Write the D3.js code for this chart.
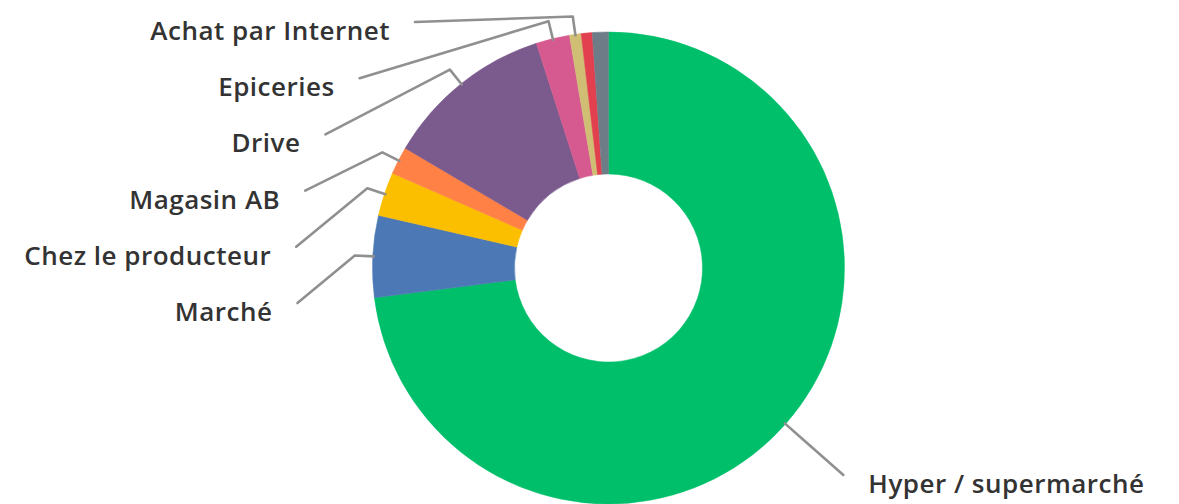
<!DOCTYPE html>
<html>
<head>
<meta charset="utf-8">
<script src="https://cdn.jsdelivr.net/npm/d3@7"></script>
<style>
  html, body { margin: 0; padding: 0; background: #ffffff; }
  svg { display: block; }
</style>
</head>
<body>
<svg id="chart" width="1179" height="504"></svg>
<script>
// ---- data ----
const categories = ["Hyper / supermarché", "Marché", "Chez le producteur", "Magasin AB", "Drive", "Epiceries", "Achat par Internet", "Autre (rouge)", "Autre (gris)"];
const values = [73.1, 5.6, 3.0, 1.9, 11.6, 2.3, 0.8, 0.75, 1.1];
const colors = ["#00BF6B", "#4C79B5", "#FBBF00", "#FF8146", "#7B5A8D", "#D6598F", "#CFBE74", "#E2404F", "#6E7C88"];
const showLabel = [true, true, true, true, true, true, true, false, false];

// ---- layout ----
const W = 1179, H = 504;
const cx = 608.5, cy = 268;
const outerR = 236, innerR = 94;
const labelR = outerR + 77;
const topLimit = 22, spacing = 56.2;

const svg = d3.select("#chart");
const g = svg.append("g").attr("transform", `translate(${cx},${cy})`);

const pie = d3.pie().sort(null).value(d => d.value).startAngle(0).endAngle(2 * Math.PI);
const data = categories.map((c, i) => ({ name: c, value: values[i], color: colors[i], show: showLabel[i] }));
const arcs = pie(data);
const arc = d3.arc().innerRadius(innerR).outerRadius(outerR);

g.selectAll("path.slice").data(arcs).enter().append("path")
  .attr("class", "slice")
  .attr("d", arc)
  .attr("fill", d => d.data.color)
  .attr("stroke", d => d.data.color)
  .attr("stroke-width", 0.5);

// label placement
const labels = arcs.filter(a => a.data.show).map(a => {
  const mid = (a.startAngle + a.endAngle) / 2;
  return {
    a, mid,
    side: Math.sin(mid) < 0 ? "left" : "right",
    y: -labelR * Math.cos(mid)
  };
});
["left", "right"].forEach(side => {
  const items = labels.filter(l => l.side === side).sort((p, q) => p.y - q.y);
  let prev = -Infinity;
  items.forEach((l, i) => {
    let y = Math.max(l.y, topLimit - cy);
    if (i > 0) y = Math.max(y, prev + spacing);
    l.y = y; prev = y;
  });
});
labels.forEach(l => {
  const dx = Math.sqrt(Math.max(0, labelR * labelR - l.y * l.y));
  l.x = l.side === "left" ? -dx : dx;
});

const pt = (r, ang) => [r * Math.sin(ang), -r * Math.cos(ang)];

g.selectAll("path.conn").data(labels).enter().append("path")
  .attr("class", "conn")
  .attr("fill", "none")
  .attr("stroke", "#909090")
  .attr("stroke-width", 2.6)
  .attr("stroke-linejoin", "round")
  .attr("stroke-linecap", "round")
  .attr("d", l => {
    const e = pt(outerR - 1, l.mid);
    const b = pt(outerR + 18, l.mid);
    return `M${l.x},${l.y}L${b[0]},${b[1]}L${e[0]},${e[1]}`;
  });

g.selectAll("text.lbl").data(labels).enter().append("text")
  .attr("class", "lbl")
  .attr("x", l => l.side === "left" ? l.x - 25 : l.x + 25)
  .attr("y", l => l.y + 8)
  .attr("dominant-baseline", "central")
  .attr("text-anchor", l => l.side === "left" ? "end" : "start")
  .attr("font-family", "'Open Sans', Lato, sans-serif")
  .attr("font-weight", 600)
  .attr("font-size", 26)
  .attr("letter-spacing", 0.5)
  .attr("fill", "#333333")
  .text(l => l.a.data.name);
</script>
</body>
</html>
